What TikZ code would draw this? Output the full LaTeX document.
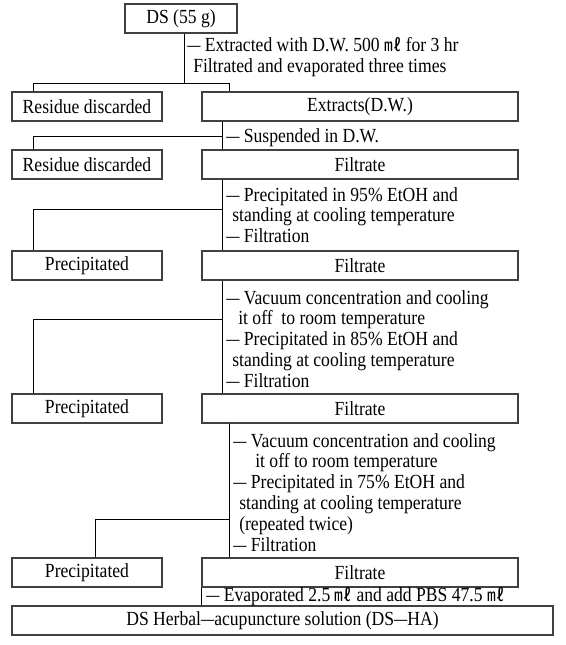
\documentclass[tikz,border=0pt]{standalone}
\usepackage{fontspec}
\setmainfont{Liberation Serif}[FakeStretch=0.88]
\newfontfamily\cjk{Noto Sans CJK KR}
\usetikzlibrary{positioning}
\newcommand{\mlunit}{{\cjk\fontsize{13}{13}\selectfont ㎖}}
\newcommand{\wdash}{\scalebox{0.75}[1]{\textemdash}}
\tikzset{
  box/.style={rectangle, draw=black!75, line width=0.8pt, minimum height=21.75pt, inner sep=0pt, font=\fontsize{15}{15.6}\selectfont},
  lbox/.style={box, minimum width=112.5pt},
  rbox/.style={box, minimum width=237pt},
  note/.style={anchor=north west, align=left, inner sep=0pt, font=\fontsize{15}{15.6}\selectfont},
  link/.style={line width=0.7pt},
}

\begin{document}
\begin{tikzpicture}[x=0.75pt, y=-0.75pt]
\useasboundingbox (0,0) rectangle (565,645);

% boxes
\node[box, minimum width=84pt] (ds) at (181,18.5) {DS (55 g)};
\node[lbox] (res1) at (87,106.5) {Residue discarded};
\node[rbox] (ext) at (360,106.5) {Extracts(D.W.)};
\node[lbox] (res2) at (87,164.5) {Residue discarded};
\node[rbox] (fil1) at (360,164.5) {Filtrate};
\node[lbox] (pre1) at (87,265.5) {Precipitated};
\node[rbox] (fil2) at (360,265.5) {Filtrate};
\node[lbox] (pre2) at (87,408.5) {Precipitated};
\node[rbox] (fil3) at (360,408.5) {Filtrate};
\node[lbox] (pre3) at (87,572.5) {Precipitated};
\node[rbox] (fil4) at (360,572.5) {Filtrate};
\node[box, minimum width=405.75pt] (dsha) at (282.5,620.5) {DS Herbal\wdash acupuncture solution (DS\wdash HA)};

% branch points
\coordinate (t1) at (184,83);
\coordinate (l1) at (33,83);
\coordinate (r1) at (229,83);
\coordinate (t2) at (222,136);
\coordinate (l2) at (33,136);
\coordinate (t3) at (222,209);
\coordinate (l3) at (33,209);
\coordinate (t4) at (222,319);
\coordinate (l4) at (33,319);
\coordinate (t5) at (229,519);
\coordinate (l5) at (95,519);

% connectors
\draw[link] (ds.south -| t1) -- (t1);
\draw[link] (res1.north -| l1) -- (l1) -- (r1) -- (ext.north -| r1);
\draw[link] (ext.south -| t2) -- (fil1.north -| t2);
\draw[link] (t2) -- (l2) -- (res2.north -| l2);
\draw[link] (fil1.south -| t3) -- (fil2.north -| t3);
\draw[link] (t3) -- (l3) -- (pre1.north -| l3);
\draw[link] (fil2.south -| t4) -- (fil3.north -| t4);
\draw[link] (t4) -- (l4) -- (pre2.north -| l4);
\draw[link] (fil3.south -| t5) -- (fil4.north -| t5);
\draw[link] (t5) -- (l5) -- (pre3.north -| l5);
\draw[link] (fil4.south west) -- (dsha.north -| fil4.south west);

% step notes
\node[note] (n1) at (187,37) {\wdash{} Extracted with D.W. 500 \mlunit{} for 3 hr\\\hspace{0.3em}Filtrated and evaporated three times};
\node[note] (n2) at (226,128) {\wdash{} Suspended in D.W.};
\node[note] (n3) at (226,187) {\wdash{} Precipitated in 95\% EtOH and\\\hspace{0.3em}standing at cooling temperature\\\wdash{} Filtration};
\node[note] (n4) at (226,290) {\wdash{} Vacuum concentration and cooling\\\hspace{0.6em}it off\ \ to room temperature\\\wdash{} Precipitated in 85\% EtOH and\\\hspace{0.3em}standing at cooling temperature\\\wdash{} Filtration};
\node[note] (n5) at (233,433) {\wdash{} Vacuum concentration and cooling\\\hspace{1.1em}it off to room temperature\\\wdash{} Precipitated in 75\% EtOH and\\\hspace{0.3em}standing at cooling temperature\\\hspace{0.3em}(repeated twice)\\\wdash{} Filtration};
\node[note] (n6) at (206,587.5) {\wdash{} Evaporated 2.5 \mlunit{} and add PBS 47.5 \mlunit};
\end{tikzpicture}
\end{document}
